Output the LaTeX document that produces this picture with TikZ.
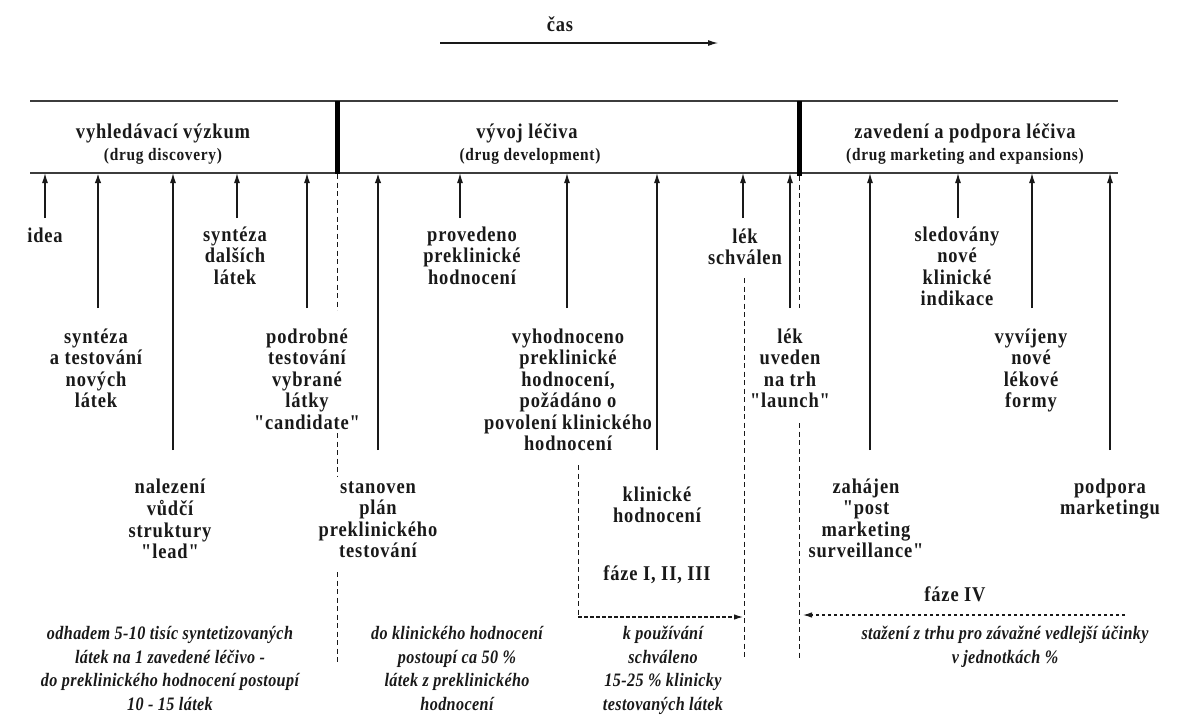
\documentclass[tikz,border=0pt]{standalone}
\usepackage{fontspec}
\setmainfont{Liberation Serif}
\newfontfamily\spfont[LetterSpace=4,FakeStretch=0.88]{Liberation Serif}
\newfontfamily\itfont[LetterSpace=2,FakeStretch=0.85]{Liberation Serif}
\usetikzlibrary{arrows.meta}
\definecolor{ink}{RGB}{25,25,25}
\definecolor{rule}{RGB}{60,60,60}
\tikzset{
  lbl/.style={font={\spfont\bfseries\fontsize{21}{21.5}\selectfont}, align=center, inner sep=0pt, anchor=north, text=ink},
  hdr/.style={font={\spfont\bfseries\fontsize{21}{21.5}\selectfont}, inner sep=0pt, anchor=base, text=ink},
  sub/.style={font={\spfont\bfseries\fontsize{17.5}{18}\selectfont}, inner sep=0pt, anchor=base, text=ink},
  note/.style={font={\itfont\bfseries\itshape\fontsize{19}{23.5}\selectfont}, align=center, inner sep=0pt, anchor=north, text=ink},
  axis/.style={draw=rule, line width=1.2pt},
  bar/.style={draw=black, line width=5pt},
  arr/.style={draw=ink, line width=1.2pt, -{Latex[length=10pt,width=6pt]}},
  tarr/.style={draw=ink, line width=1.9pt, -{Latex[length=10pt,width=6.5pt]}},
  dsh/.style={draw=ink, line width=0.9pt, dash pattern=on 5pt off 3.5pt},
  darr/.style={draw=ink, line width=1.1pt, dash pattern=on 3.5pt off 2.5pt, -{Latex[length=9pt,width=5.5pt]}},
}
\begin{document}
\begin{tikzpicture}[x=1pt,y=-1pt]
\useasboundingbox (0,0) rectangle (1189,718);

% time arrow
\node[hdr] (cas) at (560,31) {čas};
\coordinate (casA) at (440,43);
\coordinate (casB) at (718,43);
\draw[arr, line width=1.1pt] (casA) -- (casB);

% axis lines
\coordinate (T1) at (30,101); \coordinate (T2) at (1118,101);
\coordinate (B1) at (30,173); \coordinate (B2) at (1118,173);
\draw[axis] (T1) -- (T2);
\draw[axis] (B1) -- (B2);
\coordinate (bar1a) at (337,101); \coordinate (bar1b) at (337,174);
\coordinate (bar2a) at (799,101); \coordinate (bar2b) at (799,176);
\draw[bar] (bar1a) -- (bar1b);
\draw[bar] (bar2a) -- (bar2b);

% headers
\node[hdr] (h1) at (163,138) {vyhledávací výzkum};
\node[sub] (s1) at (163,160) {(drug discovery)};
\node[hdr] (h2) at (527,138) {vývoj léčiva};
\node[sub] (s2) at (530,160) {(drug development)};
\node[hdr] (h3) at (965,138) {zavedení a podpora léčiva};
\node[sub] (s3) at (965,160) {(drug marketing and expansions)};

% arrows
\foreach \i/\x/\y in {1/45/218,3/173/450,4/237/218,5/307/308,7/460/218,8/567/308,9/657/450,10/743/218,11/790/308,12/870/450,13/958/218,14/1032/308,15/1110/450}{
  \coordinate (t\i) at (\x,\y);
  \coordinate (h\i) at (\x,173);
  \draw[arr] (t\i) -- (h\i);
}
\foreach \i/\x/\y in {2/98/308,6/378/450}{
  \coordinate (t\i) at (\x,\y);
  \coordinate (h\i) at (\x,173);
  \draw[tarr] (t\i) -- (h\i);
}

% labels
\node[lbl] (l1) at (45,227) {\strut idea};
\node[lbl] (l2) at (96,328) {\strut syntéza\\a testování\\nových\\látek};
\node[lbl] (l3) at (170,478) {\strut nalezení\\vůdčí\\struktury\\"lead"};
\node[lbl] (l4) at (235,226) {\strut syntéza\\dalších\\látek};
\node[lbl] (l5) at (307,328) {\strut podrobné\\testování\\vybrané\\látky\\"candidate"};
\node[lbl] (l6) at (378,478) {\strut stanoven\\plán\\preklinického\\testování};
\node[lbl] (l7) at (472,226) {\strut provedeno\\preklinické\\hodnocení};
\node[lbl] (l8) at (568,328) {\strut vyhodnoceno\\preklinické\\hodnocení,\\požádáno o\\povolení klinického\\hodnocení};
\node[lbl] (l9) at (657,486) {\strut klinické\\hodnocení};
\node[lbl] (f1) at (657,565) {\strut fáze I, II, III};
\node[lbl] (l10) at (745,228) {\strut lék\\schválen};
\node[lbl] (l11) at (790,328) {\strut lék\\uveden\\na trh\\"launch"};
\node[lbl] (l12) at (866,478) {\strut zahájen\\"post\\marketing\\surveillance"};
\node[lbl] (l13) at (957,226) {\strut sledovány\\nové\\klinické\\indikace};
\node[lbl] (l14) at (1031,328) {\strut vyvíjeny\\nové\\lékové\\formy};
\node[lbl] (l15) at (1110,478) {\strut podpora\\marketingu};
\node[lbl] (f4) at (955,586) {\strut fáze IV};

% dashed lines
\coordinate (d1a) at (337,174); \coordinate (d1b) at (337,310);
\coordinate (d1c) at (337,433); \coordinate (d1d) at (337,476);
\coordinate (d1e) at (337,572); \coordinate (d1f) at (337,665);
\draw[dsh] (d1a) -- (d1b);
\draw[dsh] (d1c) -- (d1d);
\draw[dsh] (d1e) -- (d1f);
\coordinate (d2a) at (578,465); \coordinate (d2b) at (578,617); \coordinate (d2c) at (743,617);
\draw[dsh] (d2a) -- (d2b);
\draw[darr] (d2b) -- (d2c);
\coordinate (d3a) at (744,278); \coordinate (d3b) at (744,660);
\draw[dsh] (d3a) -- (d3b);
\coordinate (d4a) at (799,176); \coordinate (d4b) at (799,308);
\coordinate (d4c) at (799,423); \coordinate (d4d) at (799,660);
\draw[dsh] (d4a) -- (d4b);
\draw[dsh] (d4c) -- (d4d);
\coordinate (p4a) at (1125,615); \coordinate (p4b) at (803,615);
\draw[darr] (p4a) -- (p4b);

% bottom notes
\node[note] (n1) at (170,623) {\strut odhadem 5-10 tisíc syntetizovaných\\látek na 1 zavedené léčivo -\\do preklinického hodnocení postoupí\\10 - 15 látek};
\node[note] (n2) at (457,623) {\strut do klinického hodnocení\\postoupí ca 50 \%\\látek z preklinického\\hodnocení};
\node[note] (n3) at (663,623) {\strut k používání\\schváleno\\15-25 \% klinicky\\testovaných látek};
\node[note] (n4) at (1005,623) {\strut stažení z trhu pro závažné vedlejší účinky\\v jednotkách \%};
\end{tikzpicture}
\end{document}
